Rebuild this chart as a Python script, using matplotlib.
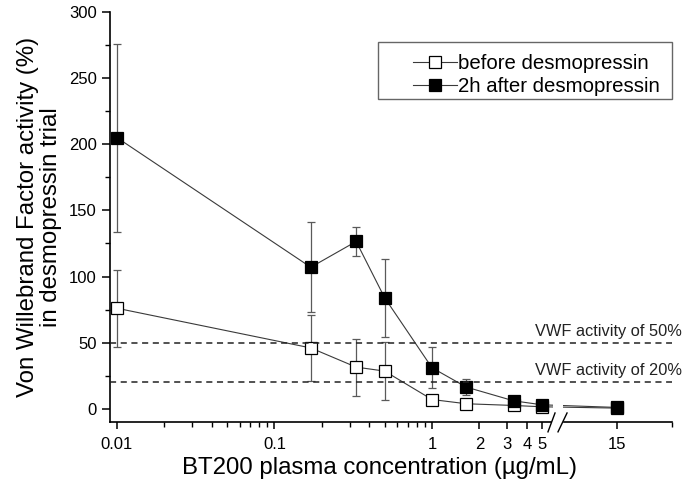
import numpy as np
import matplotlib
matplotlib.use("Agg")
import matplotlib.pyplot as plt
from matplotlib.patches import Rectangle
from matplotlib.ticker import FixedLocator, FixedFormatter, NullFormatter

plt.rcParams["font.family"] = ["Liberation Sans", "DejaVu Sans"]

# ---- data ------------------------------------------------------------------
conc = [0.01, 0.17, 0.33, 0.5, 1.0, 1.65, 3.3, 5.0, 15.0]
before = [76, 46, 31.5, 28.5, 7, 3.8, 2.5, 1.5, 0.5]
before_err = [29, 25, 21.5, 22, 3, 3, 1, 1, 0.5]
after = [205, 107, 126.5, 84, 31, 16.4, 6, 3, 1]
after_err = [71, 34, 11, 29.5, 15.5, 6, 1, 1, 0.5]

thresholds = [50, 20]
threshold_labels = ["VWF activity of 50%", "VWF activity of 20%"]

xtick_vals = [0.01, 0.1, 1, 2, 3, 4, 5, 15]
xtick_labels = ["0.01", "0.1", "1", "2", "3", "4", "5", "15"]

XMIN, XMAX = 0.00903, 33.4
BREAK_LO, BREAK_HI = 5.87, 6.79

# ---- figure ----------------------------------------------------------------
W, H = 685, 493
fig = plt.figure(figsize=(W / 100, H / 100), dpi=100)
ax = fig.add_axes([110 / W, 71 / H, 562 / W, 410 / H])

ax.set_xscale("log")
ax.set_xlim(XMIN, XMAX)
ax.set_ylim(-10, 300)

line_c = "#3a3a3a"
err_c = "#5a5a5a"

ax.errorbar(conc, before, yerr=before_err, fmt="none", ecolor=err_c,
            elinewidth=0.9, capsize=3, capthick=0.9, zorder=2)
ax.plot(conc, before, color=line_c, lw=0.8, marker="s", ms=9,
        mfc="white", mec="black", mew=0.9, zorder=3,
        label="before desmopressin")
ax.errorbar(conc, after, yerr=after_err, fmt="none", ecolor=err_c,
            elinewidth=0.9, capsize=3, capthick=0.9, zorder=4)
ax.plot(conc, after, color=line_c, lw=0.8, marker="s", ms=9,
        mfc="black", mec="black", mew=0.9, zorder=5,
        label="2h after desmopressin")

# blank out the break region
ax.axvspan(BREAK_LO, BREAK_HI, color="white", zorder=6, lw=0)

for yv, lab in zip(thresholds, threshold_labels):
    ax.axhline(yv, color="#222222", lw=1.1, ls=(0, (4, 3)), zorder=7)
    ax.text(1.018, yv + 3, lab, transform=ax.get_yaxis_transform(),
            ha="right", va="bottom", fontsize=11.8, color="#222222",
            clip_on=False, zorder=9)

# spines
for s in ("top", "right", "bottom"):
    ax.spines[s].set_visible(False)
ax.spines["left"].set_linewidth(1.2)
ax.spines["left"].set_bounds(-10, 300)

# broken bottom axis
xt = ax.get_xaxis_transform()
ax.plot([XMIN, 5.7], [0, 0], color="black", lw=1.2, transform=xt,
        clip_on=False, zorder=8)
ax.plot([6.9, XMAX], [0, 0], color="black", lw=1.2, transform=xt,
        clip_on=False, zorder=8)
ax.plot([5.45, 6.04], [-0.024, 0.022], color="black", lw=1.0,
        transform=xt, clip_on=False, zorder=8)
ax.plot([6.31, 7.2], [-0.024, 0.022], color="black", lw=1.0,
        transform=xt, clip_on=False, zorder=8)

# ticks
ax.xaxis.set_major_locator(FixedLocator(xtick_vals))
ax.xaxis.set_major_formatter(FixedFormatter(xtick_labels))
minor = [m * d for d in (0.01, 0.1) for m in range(2, 10)] + [XMAX]
ax.xaxis.set_minor_locator(FixedLocator(minor))
ax.xaxis.set_minor_formatter(NullFormatter())
ax.set_yticks(np.arange(0, 301, 50))
ax.set_yticks(np.arange(25, 300, 50), minor=True)

ax.tick_params(axis="both", which="major", direction="out", length=6,
               width=1.1, labelsize=12, colors="black")
ax.tick_params(axis="both", which="minor", direction="out", length=3.5,
               width=1.0)
ax.tick_params(axis="x", which="major", length=5, pad=6)

ax.set_xlabel("BT200 plasma concentration (\u00b5g/mL)", fontsize=17.3)
ax.xaxis.set_label_coords((379 - 110) / 562, -0.085)
ax.set_ylabel("Von Willebrand Factor activity (%)\nin desmopressin trial",
              fontsize=17.3, labelpad=5, linespacing=1.05)

# legend: entries without frame, box drawn separately
leg = ax.legend(loc="upper left", bbox_to_anchor=((413 - 110) / 562,
                (422 - 54) / 410), fontsize=14.7, frameon=False,
                handlelength=2.15, handletextpad=0.05, borderpad=0,
                labelspacing=0.2, borderaxespad=0, markerscale=0.9)
leg.set_zorder(10)
ax.add_patch(Rectangle((378 / W, 1 - 99 / H), (672 - 378) / W,
                       (99 - 42.5) / H, transform=fig.transFigure,
                       facecolor="white", edgecolor="#666666",
                       lw=1.0, zorder=9, clip_on=False))

fig.savefig("out.png", dpi=100)
